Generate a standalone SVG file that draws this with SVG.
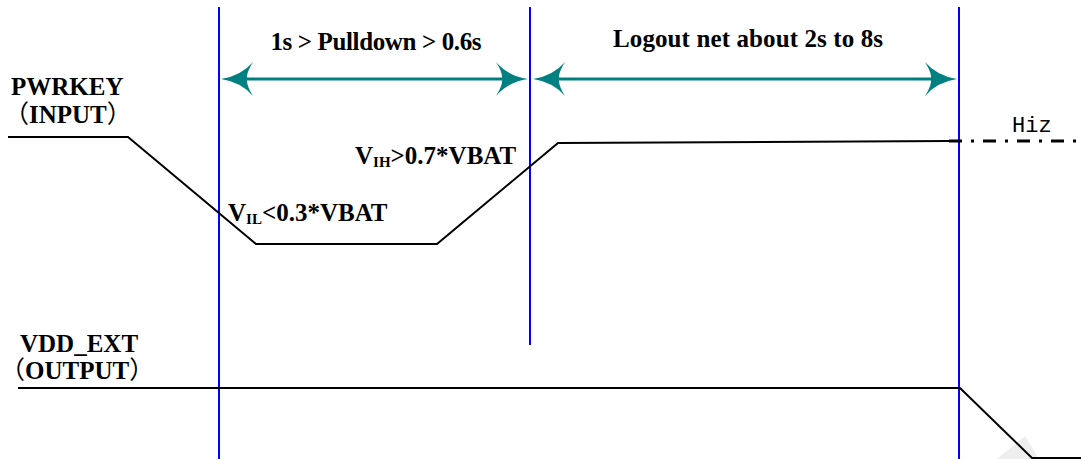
<svg xmlns="http://www.w3.org/2000/svg" width="1081" height="459" viewBox="0 0 1081 459">
<style>
.lbl{font-family:"Liberation Serif","Times New Roman",serif;font-weight:bold;font-size:25px;fill:#000}
.cjk{font-family:"Noto Sans CJK SC",sans-serif;font-weight:normal}
.sub{font-size:15px}
.mono{font-family:"Liberation Mono","DejaVu Sans Mono",monospace;font-size:22px;fill:#000}
.blue{stroke:#0000ff;stroke-width:2;fill:none}
.sig{stroke:#000;stroke-width:2;fill:none;stroke-linejoin:miter}
.dim{stroke:#008080;stroke-width:3;fill:none}
.head{fill:#008080;stroke:none}
</style>
<defs>
<path id="ah" d="M0,0 Q20,-3 32,-17 Q25,-6 26,0 Q25,6 32,17 Q20,3 0,0 Z"/>
</defs>
<rect width="1081" height="459" fill="#fff"/>
<polygon points="997,459 1025,436 1039,459" fill="#eeeeee"/>
<g id="markers">
<line class="blue" x1="219" y1="7" x2="219" y2="459"/>
<line class="blue" x1="530" y1="7" x2="530" y2="345"/>
<line class="blue" x1="959" y1="7" x2="959" y2="459"/>
</g>
<g id="pwrkey">
<text class="lbl" x="11" y="95">PWRKEY</text>
<text class="lbl" x="4" y="123"><tspan class="cjk">（</tspan>INPUT<tspan class="cjk">）</tspan></text>
<polyline class="sig" points="8,137 128,137 256,244 437,244 558,143 950,141"/>
<line x1="949" y1="141" x2="1081" y2="141" stroke="#000" stroke-width="3" stroke-dasharray="13 9 3 9"/>
<text class="mono" x="1012" y="132">Hiz</text>
</g>
<g id="vil">
<text class="lbl" x="228" y="221">V<tspan class="sub" dy="3">IL</tspan><tspan dy="-3">&lt;0.3*VBAT</tspan></text>
</g>
<g id="vih">
<text class="lbl" x="355" y="164">V<tspan class="sub" dy="3">IH</tspan><tspan dy="-3">&gt;0.7*VBAT</tspan></text>
</g>
<g id="vddext">
<text class="lbl" x="20" y="352">VDD_EXT</text>
<text class="lbl" x="0" y="379"><tspan class="cjk">（</tspan>OUTPUT<tspan class="cjk">）</tspan></text>
<polyline class="sig" points="18,388 960,388 1032,458 1081,458"/>
</g>
<g id="connectors">
<line class="dim" x1="235" y1="79" x2="515" y2="79"/>
<use href="#ah" class="head" transform="translate(221,79)"/>
<use href="#ah" class="head" transform="translate(528,79) scale(-1,1)"/>
<line class="dim" x1="547" y1="79" x2="943" y2="79"/>
<use href="#ah" class="head" transform="translate(533,79)"/>
<use href="#ah" class="head" transform="translate(957,79) scale(-1,1)"/>
</g>
<g id="labels">
<text class="lbl" x="376" y="50" text-anchor="middle" textLength="211" lengthAdjust="spacing">1s &gt; Pulldown &gt; 0.6s</text>
<text class="lbl" x="748" y="47" text-anchor="middle" textLength="270" lengthAdjust="spacing">Logout net about 2s to 8s</text>
</g>
</svg>
